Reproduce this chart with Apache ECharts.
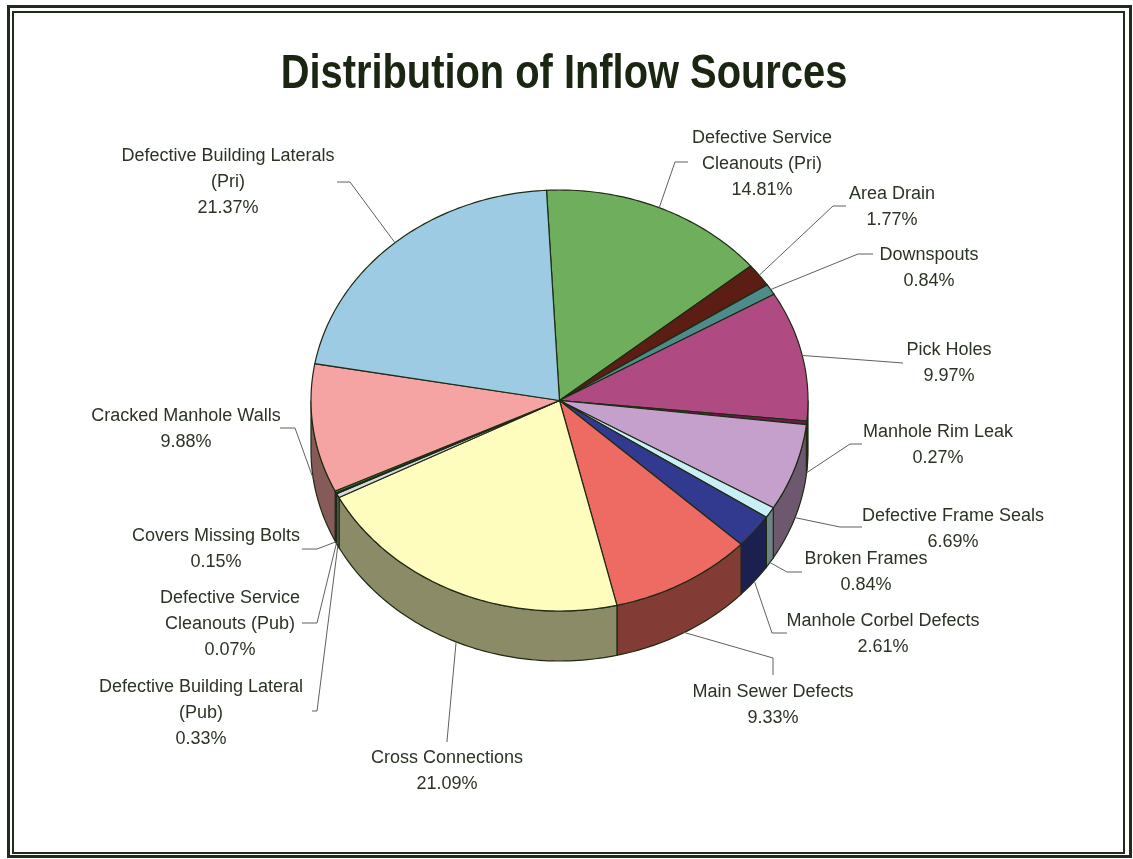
<!DOCTYPE html>
<html>
<head>
<meta charset="utf-8">
<title>Distribution of Inflow Sources</title>
<script src="https://cdn.jsdelivr.net/npm/echarts@6/dist/echarts.min.js"></script>
<style>
  html, body { margin: 0; padding: 0; background: #ffffff; }
  #chart { width: 1133px; height: 859px; }
</style>
</head>
<body>
<div id="chart"></div>
<script>
// Inflow source categories, clockwise from 12 o'clock
const categories = [
  'Defective Service\nCleanouts (Pri)',
  'Area Drain',
  'Downspouts',
  'Pick Holes',
  'Manhole Rim Leak',
  'Defective Frame Seals',
  'Broken Frames',
  'Manhole Corbel Defects',
  'Main Sewer Defects',
  'Cross Connections',
  'Defective Building Lateral\n(Pub)',
  'Defective Service\nCleanouts (Pub)',
  'Covers Missing Bolts',
  'Cracked Manhole Walls',
  'Defective Building Laterals\n(Pri)'
];

// Share of total inflow, percent
const values = [14.81, 1.77, 0.84, 9.97, 0.27, 6.69, 0.84, 2.61, 9.33, 21.09, 0.33, 0.07, 0.15, 9.88, 21.37];

// Slice colours (top face); side walls are a darker shade of the same colour
const colors = [
  '#6fae5c', '#5c1e14', '#4e8c8c', '#b04a82', '#6b1d4a',
  '#c6a0cc', '#c9eef6', '#313a8f', '#ee6b63', '#fefdbd',
  '#d6dade', '#2e5a2e', '#3f8f3a', '#f5a3a3', '#9dcbe3'
];

// Label placement: text centre, leader elbow, leader end (pixels)
const labelPos = [
  [762, 164], [892, 207], [929, 268], [949, 363], [938, 445],
  [953, 529], [866, 572], [883, 634], [773, 705], [447, 771],
  [201, 713], [230, 624], [216, 549], [186, 429], [228, 182]
];
const labelElbow = [
  [675, 162], [833, 206], [858, 254], [890, 362], [850, 444],
  [840, 527], [787, 572], [772, 633], [773, 658], [447, 741],
  [317, 711], [317, 623], [317, 549], [295, 428], [350, 182]
];
const labelEnd = [
  [688, 162], [846, 206], [873, 254], [903, 363], [862, 444],
  [862, 527], [802, 572], [787, 633], [773, 675], [447, 742],
  [312, 711], [302, 623], [302, 549], [280, 428], [337, 182]
];

const START_DEG = -3;      // first slice edge, degrees clockwise from 12 o'clock
const DEPTH = 50;          // thickness of the pie, px
const EDGE = '#1e2a14';
const LABEL_FONT = '18px "Liberation Sans", Arial, sans-serif';

const total = values.reduce((a, b) => a + b, 0);
const angleFrom = [];
const angleTo = [];
let acc = 0;
values.forEach((v) => {
  angleFrom.push(START_DEG + acc / total * 360);
  acc += v;
  angleTo.push(START_DEG + acc / total * 360);
});

function shade(hex, f) {
  const n = parseInt(hex.slice(1), 16);
  const r = Math.round(((n >> 16) & 255) * f);
  const g = Math.round(((n >> 8) & 255) * f);
  const b = Math.round((n & 255) * f);
  return 'rgb(' + r + ',' + g + ',' + b + ')';
}

// Point on the rim: the grid maps the unit circle onto the tilted ellipse
function rim(api, deg, dy) {
  const t = deg * Math.PI / 180;
  const p = api.coord([Math.sin(t), Math.cos(t)]);
  return [p[0], p[1] + (dy || 0)];
}

function arc(api, from, to, dy) {
  const n = Math.max(2, Math.ceil(Math.abs(to - from)) + 1);
  const pts = [];
  for (let k = 0; k < n; k++) {
    pts.push(rim(api, from + (to - from) * k / (n - 1), dy));
  }
  return pts;
}

const sliceData = values.map((v, i) => [0, 0, v, i]);

const chart = echarts.init(document.getElementById('chart'), null, { renderer: 'canvas' });

chart.setOption({
  backgroundColor: '#ffffff',
  animation: false,
  grid: { left: 311, top: 190, width: 497, height: 421 },
  xAxis: { type: 'value', min: -1, max: 1, show: false },
  yAxis: { type: 'value', min: -1, max: 1, show: false },
  graphic: [
    {
      // condensed bold heading
      type: 'text', silent: true, z: 100,
      x: 564, y: 75, scaleX: 0.83,
      style: {
        text: 'Distribution of Inflow Sources',
        align: 'center',
        verticalAlign: 'middle',
        font: 'bold 48px "Liberation Sans", Arial, sans-serif',
        fill: '#1a2612'
      }
    },
    {
      type: 'rect', silent: true, z: 100,
      shape: { x: 8.5, y: 6.5, width: 1122, height: 850 },
      style: { fill: 'none', stroke: '#1f2c1c', lineWidth: 3 }
    },
    {
      type: 'rect', silent: true, z: 100,
      shape: { x: 13, y: 12, width: 1111, height: 841 },
      style: { fill: 'none', stroke: '#1f2c1c', lineWidth: 2 }
    }
  ],
  series: [
    {
      // front wall of the pie
      type: 'custom',
      name: 'side',
      z: 2,
      silent: true,
      data: sliceData,
      renderItem: function (params, api) {
        const i = api.value(3);
        const s = Math.max(angleFrom[i], 90);
        const e = Math.min(angleTo[i], 270);
        if (e <= s) return { type: 'group', children: [] };
        const pts = arc(api, s, e, 0).concat(arc(api, s, e, DEPTH).reverse());
        return {
          type: 'polygon',
          shape: { points: pts },
          style: { fill: shade(colors[i], 0.55), stroke: EDGE, lineWidth: 1.2 }
        };
      }
    },
    {
      // top faces
      type: 'custom',
      name: 'top',
      z: 3,
      silent: true,
      data: sliceData,
      renderItem: function (params, api) {
        const i = api.value(3);
        const c = api.coord([0, 0]);
        const pts = [c].concat(arc(api, angleFrom[i], angleTo[i], 0));
        return {
          type: 'polygon',
          shape: { points: pts },
          style: { fill: colors[i], stroke: EDGE, lineWidth: 1.2 }
        };
      }
    },
    {
      // leader lines and data labels
      type: 'custom',
      name: 'labels',
      z: 4,
      silent: true,
      data: sliceData,
      renderItem: function (params, api) {
        const i = api.value(3);
        const v = api.value(2);
        const mid = (angleFrom[i] + angleTo[i]) / 2;
        const t = mid * Math.PI / 180;
        const front = Math.cos(t) < 0;
        const start = rim(api, mid, front ? DEPTH : 0);
        return {
          type: 'group',
          children: [
            {
              type: 'polyline',
              shape: { points: [start, labelElbow[i], labelEnd[i]] },
              style: { stroke: '#5f625a', lineWidth: 1, fill: 'none' }
            },
            {
              type: 'text',
              x: labelPos[i][0],
              y: labelPos[i][1],
              style: {
                text: categories[i] + '\n' + v.toFixed(2) + '%',
                align: 'center',
                verticalAlign: 'middle',
                font: LABEL_FONT,
                lineHeight: 26,
                fill: '#2b3424'
              }
            }
          ]
        };
      }
    }
  ]
});
</script>
</body>
</html>
